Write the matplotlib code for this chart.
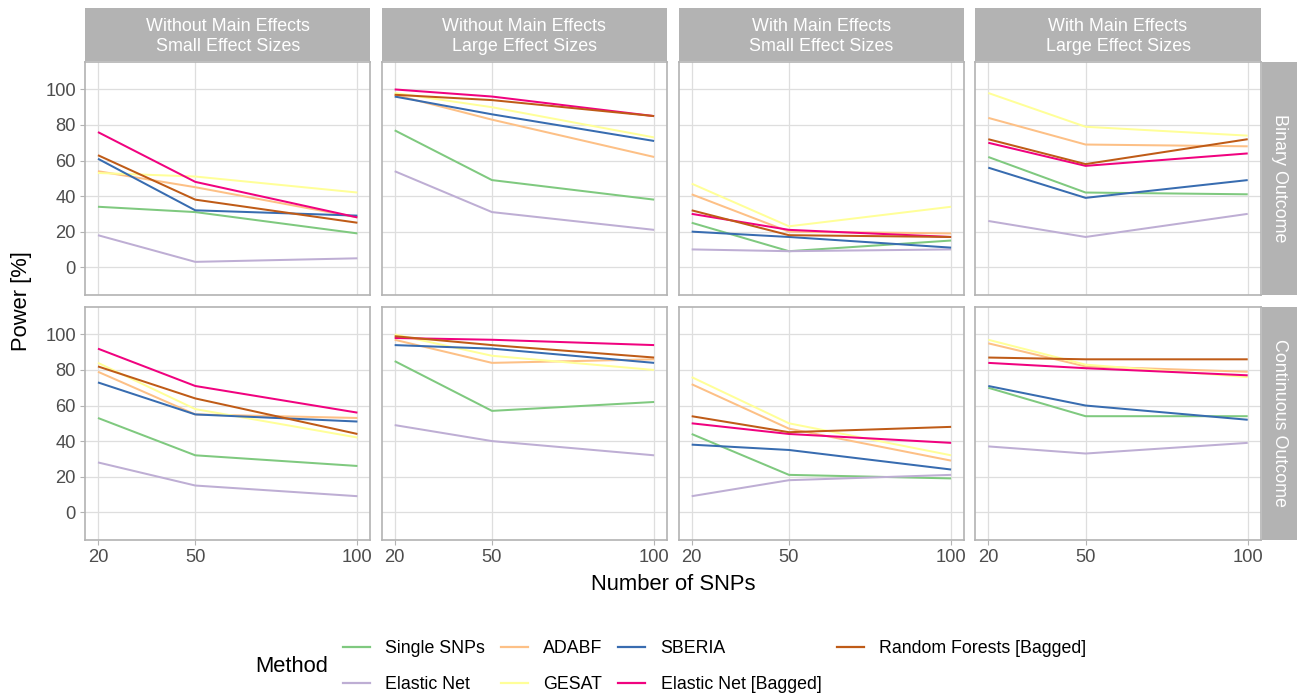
import matplotlib
matplotlib.use('Agg')
import matplotlib.pyplot as plt
from matplotlib.lines import Line2D
from matplotlib.patches import Rectangle

plt.rcParams['font.family'] = ['Liberation Sans', 'DejaVu Sans']

# ---------------- data ----------------
snps = [20, 50, 100]
methods = ['Single SNPs', 'Elastic Net', 'ADABF', 'GESAT', 'SBERIA',
           'Elastic Net [Bagged]', 'Random Forests [Bagged]']
colors = ['#7FC97F', '#BEAED4', '#FDC086', '#FFFF99', '#386CB0', '#F0027F', '#BF5B17']
col_labels = ['Without Main Effects\nSmall Effect Sizes', 'Without Main Effects\nLarge Effect Sizes',
              'With Main Effects\nSmall Effect Sizes', 'With Main Effects\nLarge Effect Sizes']
row_labels = ['Binary Outcome', 'Continuous Outcome']
y_ticks = [0, 20, 40, 60, 80, 100]

# rows follow the order of `methods`
bin_without_small = [[34, 31, 19], [18, 3, 5], [54, 45, 28], [53, 51, 42],
                     [61, 32, 29], [76, 48, 28], [63, 38, 25]]
bin_without_large = [[77, 49, 38], [54, 31, 21], [97, 83, 62], [98, 90, 73],
                     [96, 86, 71], [100, 96, 85], [97, 94, 85]]
bin_with_small = [[25, 9, 15], [10, 9, 10], [41, 20, 19], [47, 23, 34],
                  [20, 17, 11], [30, 21, 17], [32, 18, 17]]
bin_with_large = [[62, 42, 41], [26, 17, 30], [84, 69, 68], [98, 79, 74],
                  [56, 39, 49], [70, 57, 64], [72, 58, 72]]
cont_without_small = [[53, 32, 26], [28, 15, 9], [79, 55, 53], [84, 58, 42],
                      [73, 55, 51], [92, 71, 56], [82, 64, 44]]
cont_without_large = [[85, 57, 62], [49, 40, 32], [97, 84, 86], [100, 88, 80],
                      [94, 92, 84], [98, 97, 94], [99, 94, 87]]
cont_with_small = [[44, 21, 19], [9, 18, 21], [72, 47, 29], [76, 50, 32],
                   [38, 35, 24], [50, 44, 39], [54, 45, 48]]
cont_with_large = [[70, 54, 54], [37, 33, 39], [95, 82, 79], [97, 83, 76],
                   [71, 60, 52], [84, 81, 77], [87, 86, 86]]

panels = [[bin_without_small, bin_without_large, bin_with_small, bin_with_large],
          [cont_without_small, cont_without_large, cont_with_small, cont_with_large]]

# ---------------- layout ----------------
W, H = 1304, 695
fig = plt.figure(figsize=(W / 100, H / 100), dpi=100)

def fx(px):
    return px / W

def fy(py):
    return 1 - py / H

col_left = [85, 381.7, 678.7, 975.3]
pw = 285.4
row_top = [61.7, 306.7]
ph = 233.4

grid_c = '#DEDEDE'
border_c = '#B3B3B3'
strip_c = '#B3B3B3'
tick_c = '#4D4D4D'
fs = 13.2
fs_strip = 12.9
fs_leg = 12.8

for r in range(2):
    for c in range(4):
        ax = fig.add_axes([fx(col_left[c]), fy(row_top[r] + ph), pw / W, ph / H])
        data = panels[r][c]
        for vals, col in zip(data, colors):
            ax.plot(snps, vals, color=col, lw=1.45, solid_capstyle='butt', zorder=3)
        ax.set_xlim(16, 104)
        ax.set_ylim(-15.7, 115.6)
        ax.set_xticks(snps)
        ax.set_yticks(y_ticks)
        ax.grid(True, color=grid_c, lw=0.9, zorder=0)
        ax.set_axisbelow(True)
        for s in ax.spines.values():
            s.set_color(border_c)
            s.set_linewidth(1.2)
        ax.tick_params(axis='both', colors=border_c, length=3.5, width=0.8,
                       labelcolor=tick_c, labelsize=fs, pad=3)
        if r == 0:
            ax.tick_params(axis='x', length=0, labelbottom=False)
        if c != 0:
            ax.tick_params(axis='y', length=0, labelleft=False)
        # top strips
        if r == 0:
            fig.patches.append(Rectangle((fx(col_left[c]), fy(row_top[0] - 1)), pw / W,
                                         (row_top[0] - 1 - 8.3) / H, transform=fig.transFigure,
                                         facecolor=strip_c, edgecolor='none'))
            fig.text(fx(col_left[c] + pw / 2), fy((8.3 + row_top[0]) / 2 + 1.5), col_labels[c],
                     ha='center', va='center', color='white', fontsize=fs_strip, linespacing=1.22)
    # right strips
    fig.patches.append(Rectangle((fx(1262), fy(row_top[r] + ph)), 35 / W, ph / H,
                                 transform=fig.transFigure, facecolor=strip_c, edgecolor='none'))
    fig.text(fx(1262 + 17.5), fy(row_top[r] + ph / 2), row_labels[r], rotation=-90,
             ha='center', va='center', color='white', fontsize=fs_strip)

fig.text(fx(672.8), fy(585), 'Number of SNPs', ha='center', va='center', fontsize=15.8)
fig.text(fx(22), fy(300.8), 'Power [%]', ha='center', va='center', rotation=90, fontsize=15.8)

handles = [Line2D([0], [0], color=c, lw=1.6) for c in colors]
leg = fig.legend(handles, methods, ncol=4, loc='center left',
                 bbox_to_anchor=(fx(343), fy(666.5)), frameon=False, fontsize=fs_leg,
                 handlelength=1.52, handletextpad=0.87, columnspacing=0.87,
                 labelspacing=1.05, borderpad=0, borderaxespad=0)
fig.text(fx(255), fy(666), 'Method', ha='left', va='center', fontsize=15.8)

fig.savefig('out.png', dpi=100)
